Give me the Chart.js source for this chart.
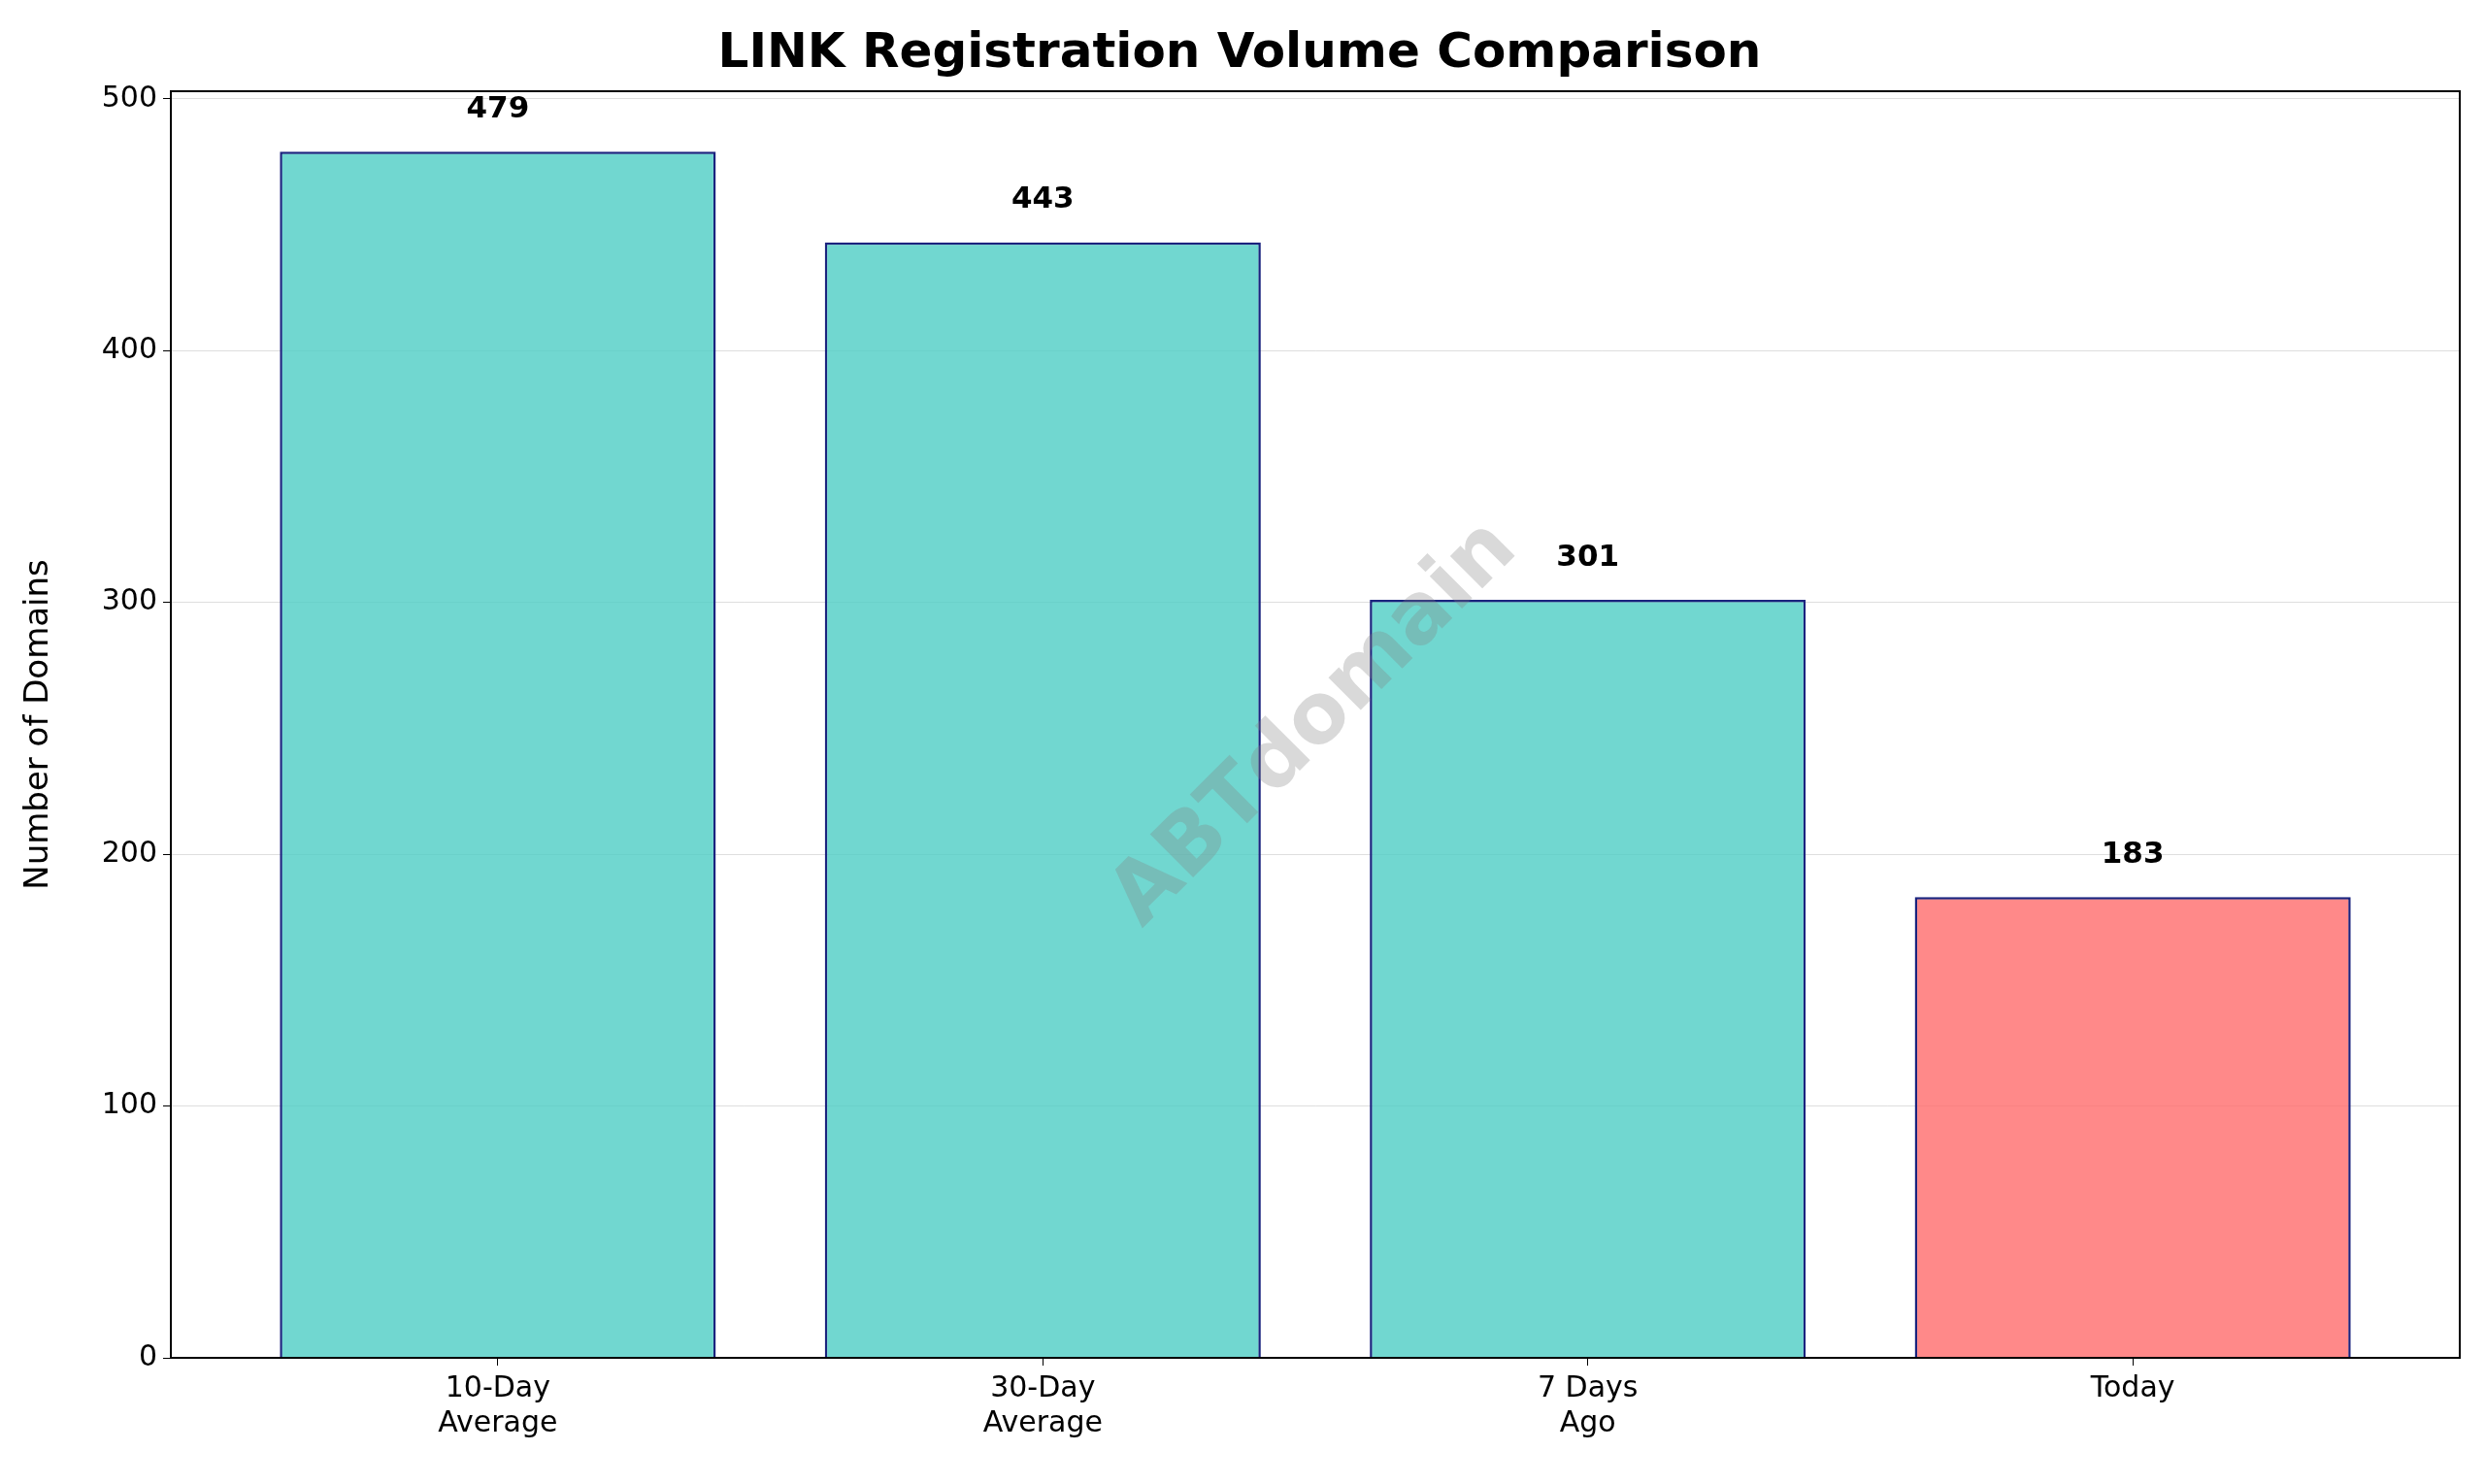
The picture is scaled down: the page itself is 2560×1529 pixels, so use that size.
<!DOCTYPE html>
<html><head><meta charset="utf-8">
<script src="https://cdn.jsdelivr.net/npm/chart.js@4/dist/chart.umd.min.js"></script>
<style>html,body{margin:0;background:#fff}</style></head>
<body><canvas id="c" width="2560" height="1529"></canvas>
<script>
const categories = [["10-Day","Average"],["30-Day","Average"],["7 Days","Ago"],["Today"]];
const values = [479, 443, 301, 183];
const barColors = ["rgba(78,205,196,0.8)","rgba(78,205,196,0.8)","rgba(78,205,196,0.8)","rgba(255,107,107,0.8)"];
const yTicks = [0,100,200,300,400,500];
const F = "'DejaVu Sans', sans-serif";

const extras = {
  id: 'extras',
  afterDatasetsDraw(chart) {
    const ctx = chart.ctx, a = chart.chartArea;
    const meta = chart.getDatasetMeta(0);
    ctx.save();
    ctx.font = "bold 31px " + F;
    ctx.fillStyle = "#000"; ctx.textAlign = "center"; ctx.textBaseline = "bottom";
    meta.data.forEach((b, i) => {
      const y = chart.scales.y.getPixelForValue(values[i] + 10);
      ctx.fillText(String(values[i]), b.x, y - 2);
    });
    ctx.translate((a.left + a.right) / 2, (a.top + a.bottom) / 2);
    ctx.rotate(-Math.PI / 4);
    ctx.font = "bold 86px " + F;
    ctx.fillStyle = "rgba(128,128,128,0.3)";
    ctx.textBaseline = "middle";
    ctx.fillText("ABTdomain", 0, 0);
    ctx.restore();
    ctx.save();
    ctx.strokeStyle = "#000"; ctx.lineWidth = 2;
    ctx.strokeRect(a.left, a.top, a.right - a.left, a.bottom - a.top);
    ctx.restore();
  }
};

new Chart(document.getElementById('c'), {
  type: 'bar',
  data: { datasets: [{ data: values.map((v, i) => ({ x: i, y: v })), backgroundColor: barColors,
    borderColor: "#1a237e", borderWidth: 2.5, categoryPercentage: 0.8, barPercentage: 1.0 }] },
  options: {
    responsive: false, animation: false, devicePixelRatio: 1,
    layout: { padding: { left: 20, right: 26, top: 10, bottom: 10 } },
    plugins: {
      legend: { display: false }, tooltip: { enabled: false },
      title: { display: true, text: "LINK Registration Volume Comparison", color: "#000",
        font: { family: F, size: 50, weight: 'bold' }, padding: { top: 16, bottom: 8 } }
    },
    scales: {
      x: { type: 'linear', min: -0.6, max: 3.6, offset: false,
        afterBuildTicks(s) { s.ticks = categories.map((c, i) => ({ value: i })); },
        grid: { offset: false, drawOnChartArea: false, drawTicks: true, tickColor: "#000", tickLength: 8 },
        border: { color: "#000", width: 2 },
        ticks: { color: "#000", font: { family: F, size: 30 }, padding: 6, callback: v => categories[v] },
        afterFit(s) { s.height = 120; } },
      y: { min: 0, max: 503, afterBuildTicks(s) { s.ticks = yTicks.map(v => ({ value: v })); },
        grid: { color: "rgba(0,0,0,0.13)", drawTicks: true, tickColor: "#000", tickLength: 8 },
        border: { color: "#000", width: 2 },
        ticks: { color: "#000", font: { family: F, size: 30 }, padding: 6 },
        title: { display: true, text: "Number of Domains", color: "#000", font: { family: F, size: 34 }, padding: { top: 0, bottom: 10 } },
        afterFit(s) { s.width = 156; } }
    }
  },
  plugins: [extras]
});
</script></body></html>
